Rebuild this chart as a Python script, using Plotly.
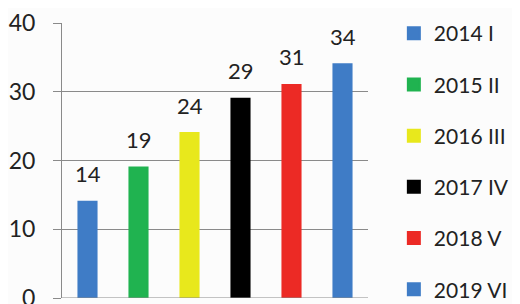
import plotly.graph_objects as go

categories = ["2014 I", "2015 II", "2016 III", "2017 IV", "2018 V", "2019 VI"]
values = [14, 19, 24, 29, 31, 34]
colors = ["#3f7cc6", "#20b350", "#e8e81c", "#000000", "#ec2a25", "#3f7cc6"]
y_ticks = [0, 10, 20, 30, 40]

FONT = "Lato, 'Open Sans', sans-serif"

fig = go.Figure()
for i, (cat, val, col) in enumerate(zip(categories, values, colors)):
    fig.add_trace(go.Bar(
        x=[cat], y=[val], name=cat, marker=dict(color=col, line=dict(width=2, color=col)),
        width=0.355, legendgroup=f"g{i}", showlegend=True,
        legend="legend" if i < 3 else "legend2",
    ))
    fig.add_annotation(x=cat, y=val, text=str(val), showarrow=False,
                       yshift=28, yanchor="middle",
                       font=dict(family=FONT, size=22, color="#222222"))

leg_common = dict(xanchor="left", yanchor="middle",
                  font=dict(family=FONT, size=21, color="#222222"),
                  tracegroupgap=21, itemwidth=30, bgcolor="rgba(0,0,0,0)")

# page has an 8px body margin, so the figure is 512x296 to fill the 520x304 window
fig.update_layout(
    width=512, height=296,
    margin=dict(l=54, r=152, t=15, b=6, autoexpand=False),
    paper_bgcolor="#fcfcfc", plot_bgcolor="#fcfcfc",
    barmode="overlay",
    showlegend=True,
    legend=dict(x=1.0845, y=0.776, **leg_common),
    legend2=dict(x=1.0845, y=0.218, **leg_common),
    font=dict(family=FONT),
)
fig.update_xaxes(showticklabels=False, showgrid=False, zeroline=False,
                 showline=False, ticks="", categoryorder="array", categoryarray=categories)
fig.update_yaxes(range=[0, 40], tickvals=y_ticks, showgrid=True, gridcolor="#8a8a8a",
                 gridwidth=1, zeroline=False, showline=True, linecolor="#8a8a8a",
                 ticks="outside", ticklen=8, tickcolor="#8a8a8a", ticklabelstandoff=13,
                 ticklabeloverflow="allow",
                 tickfont=dict(family=FONT, size=23, color="#222222"))
fig.add_hline(y=0, line=dict(color="#8a8a8a", width=1), layer="above")

fig.write_html("out.html")
